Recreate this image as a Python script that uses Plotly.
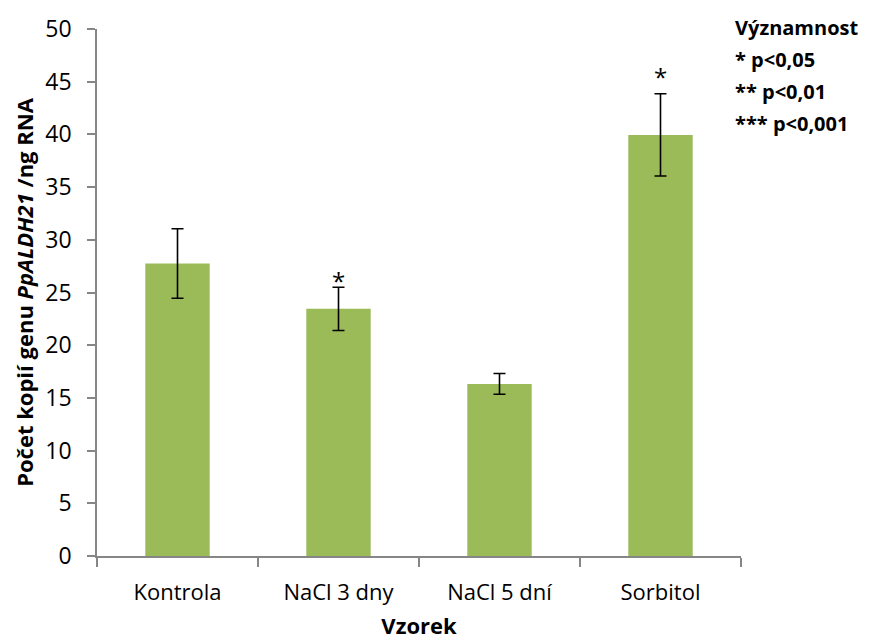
import plotly.graph_objects as go

# Copy numbers per ng RNA for each sample
categories = ["Kontrola", "NaCl 3 dny", "NaCl 5 dní", "Sorbitol"]
values = [27.75, 23.45, 16.33, 39.95]
errors = [3.3, 2.05, 0.98, 3.9]
significance = ["", "*", "", "*"]
y_ticks = [0, 5, 10, 15, 20, 25, 30, 35, 40, 45, 50]
legend_lines = ["Významnost", "* p<0,05", "** p<0,01", "*** p<0,001"]

FONT = "Open Sans"
SIZE = 23
AXIS_GRAY = "#868686"
star_shift = [0, 7, 0, 17]

fig = go.Figure()
fig.add_trace(go.Bar(
    x=categories,
    y=values,
    marker=dict(color="#9BBB59", line=dict(width=0)),
    error_y=dict(type="data", array=errors, visible=True,
                 color="black", thickness=1.6, width=6),
    width=0.4,
    showlegend=False,
))

# significance stars above the error bars
for cat, v, e, s, sh in zip(categories, values, errors, significance, star_shift):
    if s:
        fig.add_annotation(x=cat, y=v + e, text=s, showarrow=False,
                           yanchor="middle", yshift=sh,
                           font=dict(family=FONT, size=24, color="black"))

# significance key in the top-right corner, one line per annotation
for i, t in enumerate(legend_lines):
    fig.add_annotation(
        xref="paper", yref="paper", x=0.988, y=1.0,
        xanchor="left", yanchor="middle", align="left", showarrow=False,
        yshift=2 - 32 * i,
        text=f"<b>{t}</b>",
        font=dict(family=FONT, size=20, color="black"),
    )

fig.update_layout(
    width=873, height=640,
    margin=dict(l=97, r=132, t=29, b=84),
    paper_bgcolor="white", plot_bgcolor="white",
    font=dict(family=FONT, size=SIZE, color="black"),
    xaxis=dict(
        type="category", tickson="boundaries", automargin=False,
        showline=True, linecolor=AXIS_GRAY, linewidth=1.5,
        ticks="outside", ticklen=9, tickcolor=AXIS_GRAY, tickwidth=1.5,
        ticklabelstandoff=16,
        tickfont=dict(family=FONT, size=SIZE - 1, color="black"),
        title=dict(text="<b>Vzorek</b>", standoff=19,
                   font=dict(family=FONT, size=SIZE - 1, color="black")),
        showgrid=False, zeroline=False,
    ),
    yaxis=dict(
        range=[0, 50], tickvals=y_ticks, automargin=False,
        showline=True, linecolor=AXIS_GRAY, linewidth=1.5,
        ticks="outside", ticklen=8, tickcolor=AXIS_GRAY, tickwidth=1.5,
        ticklabelstandoff=11,
        tickfont=dict(family=FONT, size=SIZE, color="black"),
        title=dict(text="<b>Počet kopií genu <i>PpALDH21</i> /ng RNA</b>",
                   standoff=6,
                   font=dict(family=FONT, size=SIZE - 1, color="black")),
        showgrid=False, zeroline=False,
    ),
)

fig.write_html("out.html")
